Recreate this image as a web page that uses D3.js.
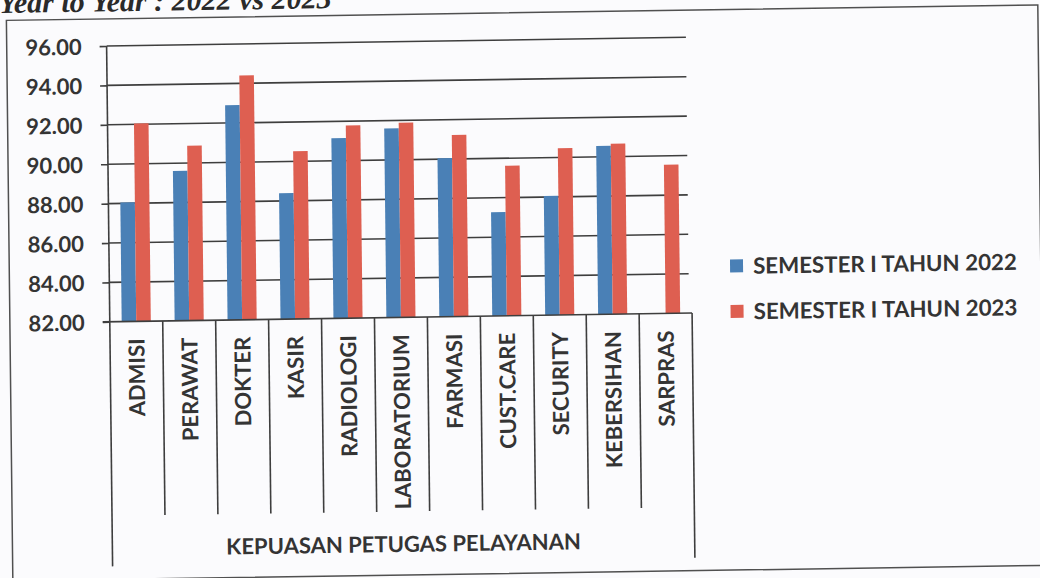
<!DOCTYPE html>
<html>
<head>
<meta charset="utf-8">
<script src="https://cdn.jsdelivr.net/npm/d3@7"></script>
<style>
  html, body { margin: 0; padding: 0; background: #fbfbfd; }
  svg { display: block; }
</style>
</head>
<body>
<svg id="chart" width="1040" height="578"></svg>
<script>
// ---- data ----
const chartTitle = "Year to Year : 2022 vs 2023";
const categories = ["ADMISI", "PERAWAT", "DOKTER", "KASIR", "RADIOLOGI", "LABORATORIUM",
                    "FARMASI", "CUST.CARE", "SECURITY", "KEBERSIHAN", "SARPRAS"];
const seriesNames = ["SEMESTER I TAHUN 2022", "SEMESTER I TAHUN 2023"];
const values2022 = [88.05, 89.6, 92.9, 88.4, 91.15, 91.6, 90.05, 87.27, 88.05, 90.55, null];
const values2023 = [92.05, 90.88, 94.4, 90.52, 91.78, 91.88, 91.22, 89.62, 90.47, 90.65, 89.55];
const yTickValues = [82, 84, 86, 88, 90, 92, 94, 96];
const axisTitle = "KEPUASAN PETUGAS PELAYANAN";
const seriesColors = ["#4a80b6", "#de5f51"];

// ---- layout ----
const plot = { left: 108.2, right: 690.5, top: 41.6, bottom: 317.4 };
const FONT = "Lato, 'Open Sans', sans-serif";
const TEXT = "#343434";
const LINE = "#3e3e3e";

const svg = d3.select("#chart");
svg.append("rect").attr("width", 1040).attr("height", 578).attr("fill", "#fbfbfd");

// slight skew of the scanned page
const g = svg.append("g").attr("transform", "matrix(1,-0.015,0.0115,1,-2.07,6)");

// title (the scan shows only its lower part)
g.append("text")
  .attr("x", 1).attr("y", 7)
  .attr("font-family", "'Liberation Serif', serif")
  .attr("font-style", "italic").attr("font-weight", "bold")
  .attr("font-size", 30).attr("fill", "#2a2a2a")
  .text(chartTitle);

// frame
g.append("rect")
  .attr("x", 8.3).attr("y", 14.5).attr("width", 1031.4).attr("height", 560.5)
  .attr("fill", "none").attr("stroke", "#505050").attr("stroke-width", 1.5);

const x = d3.scaleBand().domain(categories).range([plot.left, plot.right]).padding(0);
const pairWidth = x.bandwidth() * 0.55;
const xs = d3.scaleBand().domain([0, 1])
  .range([(x.bandwidth() - pairWidth) / 2, (x.bandwidth() + pairWidth) / 2]).padding(0);
const y = d3.scaleLinear().domain([82, 96]).range([plot.bottom, plot.top]);

// gridlines
g.append("g").selectAll("line").data(yTickValues.slice(1)).join("line")
  .attr("x1", plot.left).attr("x2", plot.right - 3)
  .attr("y1", d => y(d)).attr("y2", d => y(d))
  .attr("stroke", LINE).attr("stroke-width", 1.6);

// y axis
const yAxis = d3.axisLeft(y).tickValues(yTickValues).tickSize(7).tickPadding(18)
  .tickFormat(d3.format(".2f"));
const ya = g.append("g").attr("transform", `translate(${plot.left},0)`).call(yAxis);
ya.select(".domain").remove();
ya.selectAll(".tick line").attr("stroke", LINE).attr("stroke-width", 1.6);
ya.selectAll(".tick text")
  .attr("font-family", FONT).attr("font-weight", "bold").attr("font-size", 22)
  .attr("fill", TEXT).attr("dy", "0.36em");

// bars
const seriesData = [values2022, values2023];
seriesData.forEach((vals, si) => {
  g.append("g").selectAll("rect")
    .data(categories.map((c, i) => ({ c, v: vals[i] })).filter(d => d.v != null))
    .join("rect")
    .attr("x", d => x(d.c) + xs(si))
    .attr("width", xs.bandwidth())
    .attr("y", d => y(d.v))
    .attr("height", d => y(82) - y(d.v))
    .attr("fill", seriesColors[si]);
});

// axis lines
const labelBottom = 511.5, outerBottom = 562;
g.append("line").attr("x1", plot.left).attr("x2", plot.left)
  .attr("y1", plot.top).attr("y2", outerBottom).attr("stroke", LINE).attr("stroke-width", 1.6);
g.append("line").attr("x1", plot.left - 7).attr("x2", plot.right)
  .attr("y1", plot.bottom).attr("y2", plot.bottom).attr("stroke", LINE).attr("stroke-width", 1.6);
g.append("line").attr("x1", plot.right).attr("x2", plot.right)
  .attr("y1", plot.bottom).attr("y2", outerBottom).attr("stroke", LINE).attr("stroke-width", 1.6);
g.append("g").selectAll("line").data(categories.slice(1)).join("line")
  .attr("x1", d => x(d)).attr("x2", d => x(d))
  .attr("y1", plot.bottom).attr("y2", labelBottom)
  .attr("stroke", LINE).attr("stroke-width", 1.6);

// category labels
g.append("g").selectAll("text").data(categories).join("text")
  .attr("transform", d => `translate(${x(d) + x.bandwidth() / 2},${plot.bottom + 17}) rotate(-90)`)
  .attr("text-anchor", "end").attr("dy", "0.36em")
  .attr("font-family", FONT).attr("font-weight", "bold").attr("font-size", 22)
  .attr("fill", TEXT).text(d => d);

// outer axis title
g.append("text")
  .attr("x", (plot.left + plot.right) / 2).attr("y", 544)
  .attr("text-anchor", "middle").attr("dy", "0.36em")
  .attr("font-family", FONT).attr("font-weight", "bold").attr("font-size", 22)
  .attr("fill", TEXT).text(axisTitle);

// legend
const legendY = [271, 316.5];
const lg = g.append("g");
seriesNames.forEach((name, i) => {
  lg.append("rect").attr("x", 729).attr("y", legendY[i] - 6.5)
    .attr("width", 13).attr("height", 13).attr("fill", seriesColors[i]);
  lg.append("text").attr("x", 752).attr("y", legendY[i]).attr("dy", "0.36em")
    .attr("font-family", FONT).attr("font-weight", "bold").attr("font-size", 22.3)
    .attr("fill", TEXT).text(name);
});
</script>
</body>
</html>
